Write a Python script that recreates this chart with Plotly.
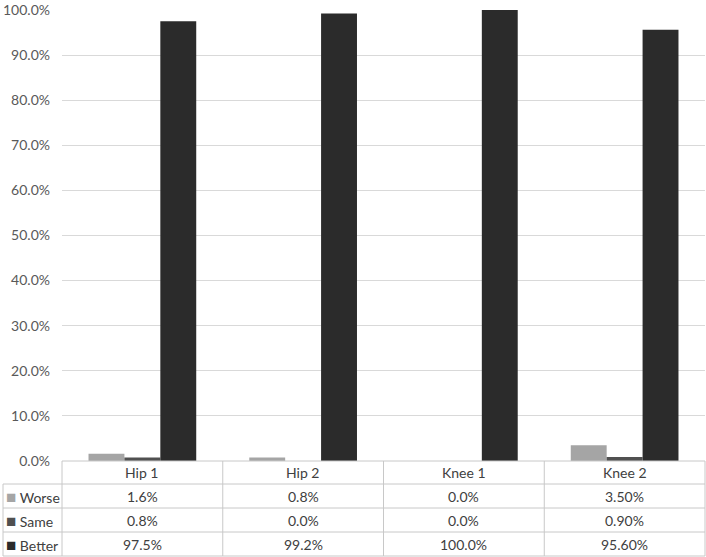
import plotly.graph_objects as go

categories = ["Hip 1", "Hip 2", "Knee 1", "Knee 2"]
series_names = ["Worse", "Same", "Better"]
worse = [0.016, 0.008, 0.0, 0.035]
same = [0.008, 0.0, 0.0, 0.009]
better = [0.975, 0.992, 1.0, 0.956]
table_worse = ["1.6%", "0.8%", "0.0%", "3.50%"]
table_same = ["0.8%", "0.0%", "0.0%", "0.90%"]
table_better = ["97.5%", "99.2%", "100.0%", "95.60%"]
colors = ["#a5a5a5", "#505050", "#2b2b2b"]

W, H = 706, 557
ml, mr, mt, mb = 62, 1, 9, 96
pw, ph = W - ml - mr, H - mt - mb

def px_to_py(py):
    return (H - mb - py) / ph

def px_to_px(px):
    return (px - ml) / pw

fig = go.Figure()
for name, vals, c in zip(series_names, [worse, same, better], colors):
    fig.add_trace(go.Bar(x=categories, y=vals, name=name, marker_color=c,
                         marker_line_width=0, showlegend=False))

font = "Lato, 'Open Sans', sans-serif"
txtc = "#404040"
linec = "#c8c8c8"
fs = 14

# table layout
row_edges = [461, 484, 508, 532, 556]
shapes = []
n = len(categories)
left_tab = px_to_px(3)
for i, py in enumerate(row_edges):
    x0 = 0 if i == 0 else left_tab
    shapes.append(dict(type="line", xref="paper", yref="paper", x0=x0, x1=1,
                       y0=px_to_py(py), y1=px_to_py(py), line=dict(color=linec, width=1)))
for k in range(n + 1):
    shapes.append(dict(type="line", xref="paper", yref="paper", x0=k / n, x1=k / n,
                       y0=px_to_py(461), y1=px_to_py(556), line=dict(color=linec, width=1)))
shapes.append(dict(type="line", xref="paper", yref="paper", x0=left_tab, x1=left_tab,
                   y0=px_to_py(484), y1=px_to_py(556), line=dict(color=linec, width=1)))

annotations = []
def rc(i):
    return px_to_py((row_edges[i] + row_edges[i + 1]) / 2)

for k, cat in enumerate(categories):
    annotations.append(dict(x=(k + 0.5) / n, y=rc(0), xref="paper", yref="paper", text=cat,
                            xanchor="center", yanchor="middle",
                            showarrow=False, font=dict(size=fs, color=txtc, family=font)))
for r, (name, row, c) in enumerate(zip(series_names, [table_worse, table_same, table_better], colors)):
    for k, v in enumerate(row):
        annotations.append(dict(x=(k + 0.5) / n, y=rc(r + 1), xref="paper", yref="paper", text=v,
                                xanchor="center", yanchor="middle",
                                showarrow=False, font=dict(size=fs, color=txtc, family=font)))
    annotations.append(dict(x=px_to_px(4), y=rc(r + 1), xref="paper", yref="paper",
                            xanchor="left", yanchor="middle",
                            text=f"<span style='color:{c};font-size:17px'>■</span> {name}",
                            showarrow=False, font=dict(size=fs, color=txtc, family=font)))

fig.update_layout(
    width=W, height=H,
    margin=dict(l=ml, r=mr, t=mt, b=mb, pad=0, autoexpand=False),
    paper_bgcolor="white", plot_bgcolor="white",
    barmode="group", bargap=0.33, bargroupgap=0,
    xaxis=dict(showticklabels=False, showgrid=False, zeroline=False, showline=False,
               range=[-0.5, 3.5], ticks=""),
    yaxis=dict(range=[0, 1.002], dtick=0.1, tickformat=".1%", showgrid=True,
               gridcolor="#d9d9d9", gridwidth=1, zeroline=False, showline=False,
               ticks="", ticklabelstandoff=11, automargin=False, ticklabeloverflow="allow",
               tickfont=dict(size=fs, color="#595959", family=font)),
    shapes=shapes, annotations=annotations,
    font=dict(family=font),
)
fig.write_html("out.html", config={"displayModeBar": False},
               post_script="document.body.style.margin='0';document.body.style.overflow='hidden';")
